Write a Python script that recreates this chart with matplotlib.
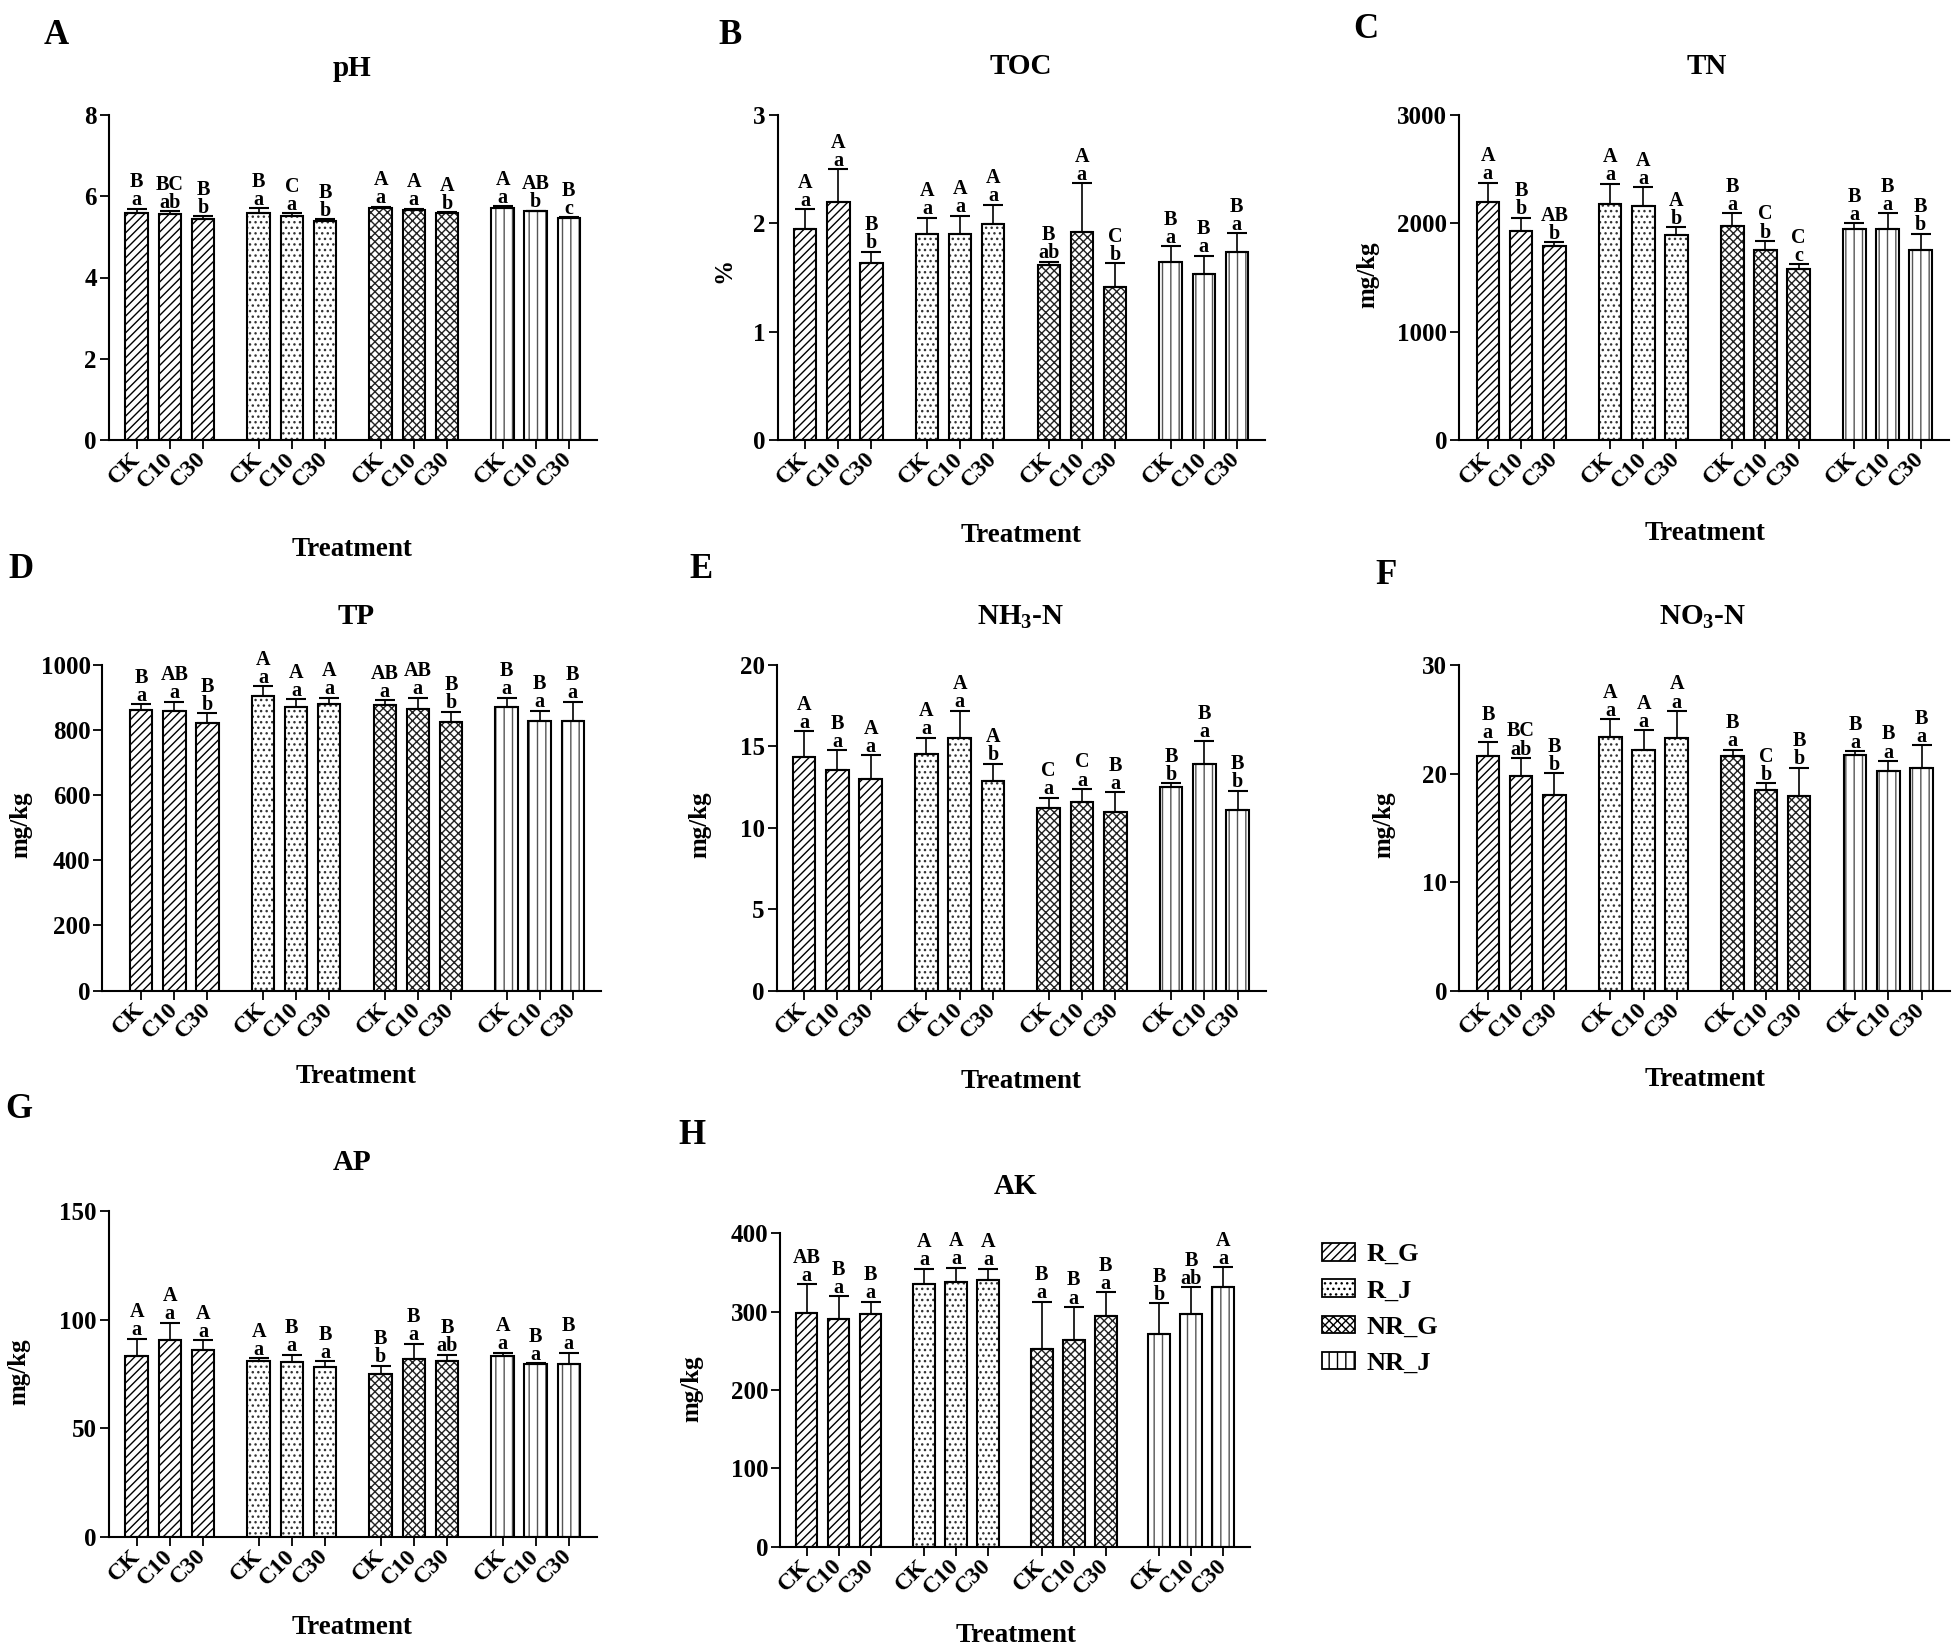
import matplotlib
matplotlib.use("Agg")
import matplotlib.pyplot as plt
from matplotlib.patches import Patch
import numpy as np

plt.rcParams['font.family'] = ['Liberation Serif', 'DejaVu Serif']
plt.rcParams['font.weight'] = 'bold'
plt.rcParams['mathtext.fontset'] = 'custom'
plt.rcParams['mathtext.rm'] = 'Liberation Serif:bold'
plt.rcParams['mathtext.bf'] = 'Liberation Serif:bold'
plt.rcParams['hatch.linewidth'] = 1.0

# ---------------- data ----------------
groups = ['R_G', 'R_J', 'NR_G', 'NR_J']
treatments = ['CK', 'C10', 'C30']

ph_mean = [5.59, 5.56, 5.44, 5.59, 5.51, 5.39, 5.71, 5.67, 5.59, 5.71, 5.63, 5.46]
ph_sd = [0.10, 0.07, 0.07, 0.12, 0.07, 0.04, 0.03, 0.02, 0.02, 0.04, 0.01, 0.02]
ph_upper = ['B', 'BC', 'B', 'B', 'C', 'B', 'A', 'A', 'A', 'A', 'AB', 'B']
ph_lower = ['a', 'ab', 'b', 'a', 'a', 'b', 'a', 'a', 'b', 'a', 'b', 'c']

toc_mean = [1.95, 2.20, 1.63, 1.90, 1.90, 1.99, 1.62, 1.92, 1.41, 1.645, 1.53, 1.74]
toc_sd = [0.18, 0.30, 0.11, 0.15, 0.17, 0.18, 0.025, 0.45, 0.22, 0.145, 0.17, 0.17]
toc_upper = ['A', 'A', 'B', 'A', 'A', 'A', 'B', 'A', 'C', 'B', 'B', 'B']
toc_lower = ['a', 'a', 'b', 'a', 'a', 'a', 'ab', 'a', 'b', 'a', 'a', 'a']

tn_mean = [2199, 1925, 1787, 2183, 2156, 1892, 1978, 1754, 1579, 1949, 1949, 1754]
tn_sd = [175, 126, 40, 181, 175, 70, 116, 83, 43, 52, 145, 148]
tn_upper = ['A', 'B', 'AB', 'A', 'A', 'A', 'B', 'C', 'C', 'B', 'B', 'B']
tn_lower = ['a', 'b', 'b', 'a', 'a', 'b', 'a', 'b', 'c', 'a', 'a', 'b']

tp_mean = [861, 858, 822, 905, 871, 880, 876, 866, 825, 871, 829, 829]
tp_sd = [19, 29, 30, 29, 24, 19, 15, 33, 32, 28, 31, 58]
tp_upper = ['B', 'AB', 'B', 'A', 'A', 'A', 'AB', 'AB', 'B', 'B', 'B', 'B']
tp_lower = ['a', 'a', 'b', 'a', 'a', 'a', 'a', 'a', 'b', 'a', 'a', 'a']

nh3_mean = [14.35, 13.57, 12.99, 14.56, 15.53, 12.87, 11.20, 11.58, 10.98, 12.49, 13.93, 11.09]
nh3_sd = [1.59, 1.18, 1.46, 0.97, 1.66, 1.06, 0.65, 0.80, 1.19, 0.25, 1.41, 1.19]
nh3_upper = ['A', 'B', 'A', 'A', 'A', 'A', 'C', 'C', 'B', 'B', 'B', 'B']
nh3_lower = ['a', 'a', 'a', 'a', 'a', 'b', 'a', 'a', 'a', 'b', 'a', 'b']

no3_mean = [21.59, 19.81, 18.06, 23.38, 22.20, 23.31, 21.59, 18.47, 17.90, 21.75, 20.25, 20.54]
no3_sd = [1.34, 1.62, 1.97, 1.62, 1.78, 2.45, 0.61, 0.61, 2.64, 0.29, 0.90, 2.07]
no3_upper = ['B', 'BC', 'B', 'A', 'A', 'A', 'B', 'C', 'B', 'B', 'B', 'B']
no3_lower = ['a', 'ab', 'b', 'a', 'a', 'a', 'a', 'b', 'b', 'a', 'a', 'a']

ap_mean = [83.4, 90.6, 86.3, 81.0, 80.4, 78.5, 74.9, 81.8, 81.0, 83.3, 79.6, 79.6]
ap_sd = [7.9, 8.1, 4.3, 1.3, 3.5, 2.4, 3.9, 7.2, 2.9, 1.6, 0.5, 5.3]
ap_upper = ['A', 'A', 'A', 'A', 'B', 'B', 'B', 'B', 'B', 'A', 'B', 'B']
ap_lower = ['a', 'a', 'a', 'a', 'a', 'a', 'b', 'a', 'ab', 'a', 'a', 'a']

ak_mean = [298, 291, 297, 335, 338, 340, 252, 264, 295, 272, 297, 332]
ak_sd = [37, 29, 16, 20, 18, 15, 61, 42, 30, 39, 34, 25]
ak_upper = ['AB', 'B', 'B', 'A', 'A', 'A', 'B', 'B', 'B', 'B', 'B', 'A']
ak_lower = ['a', 'a', 'a', 'a', 'a', 'a', 'a', 'a', 'a', 'b', 'ab', 'a']

# ---------------- styling ----------------
W, H = 1959, 1646
fig = plt.figure(figsize=(W / 100, H / 100), dpi=100)

def fx(px):
    return px / W

def fy(py):
    return 1 - py / H

hatches = ['////', '...', 'xxxx', '||']
hatch_edge = ['black', '#333333', '#222222', '#555555']
GAP = 3.68
xpos = np.array([g * GAP + i for g in range(4) for i in range(3)])

panels = [
    dict(mean=ph_mean, sd=ph_sd, up=ph_upper, lo=ph_lower, ymax=8, yt=[0, 2, 4, 6, 8],
         box=(108.6, 597, 115, 440), xl=-0.85, title='pH', txy=(352, 68), let='A', lxy=(56, 36),
         yl=None, ylxy=None, trxy=(352, 550)),
    dict(mean=toc_mean, sd=toc_sd, up=toc_upper, lo=toc_lower, ymax=3, yt=[0, 1, 2, 3],
         box=(777.7, 1265, 115, 440), xl=-0.83, title='TOC', txy=(1021, 66), let='B', lxy=(730, 35),
         yl='%', ylxy=(724, 270), trxy=(1021, 536)),
    dict(mean=tn_mean, sd=tn_sd, up=tn_upper, lo=tn_lower, ymax=3000, yt=[0, 1000, 2000, 3000],
         box=(1459, 1949, 115, 440), xl=-0.87, title='TN', txy=(1707, 66), let='C', lxy=(1366, 29),
         yl='mg/kg', ylxy=(1368, 275), trxy=(1705, 534)),
    dict(mean=tp_mean, sd=tp_sd, up=tp_upper, lo=tp_lower, ymax=1000, yt=[0, 200, 400, 600, 800, 1000],
         box=(102.4, 601, 665, 990.5), xl=-1.17, title='TP', txy=(356.5, 617), let='D', lxy=(21, 570),
         yl='mg/kg', ylxy=(21, 825), trxy=(356.5, 1076.6)),
    dict(mean=nh3_mean, sd=nh3_sd, up=nh3_upper, lo=nh3_lower, ymax=20, yt=[0, 5, 10, 15, 20],
         box=(776.6, 1265.8, 665, 990.5), xl=-0.83, title=r'NH$_\mathregular{3}$-N', txy=(1021, 617),
         let='E', lxy=(701, 569), yl='mg/kg', ylxy=(700, 825), trxy=(1021, 1081.8)),
    dict(mean=no3_mean, sd=no3_sd, up=no3_upper, lo=no3_lower, ymax=30, yt=[0, 10, 20, 30],
         box=(1459, 1949.8, 665, 990.5), xl=-0.87, title=r'NO$_\mathregular{3}$-N', txy=(1703, 617),
         let='F', lxy=(1386, 575), yl='mg/kg', ylxy=(1384, 825), trxy=(1705, 1080)),
    dict(mean=ap_mean, sd=ap_sd, up=ap_upper, lo=ap_lower, ymax=150, yt=[0, 50, 100, 150],
         box=(108.6, 597, 1211.4, 1537), xl=-0.85, title='AP', txy=(352, 1163), let='G', lxy=(19, 1110),
         yl='mg/kg', ylxy=(19, 1372), trxy=(352, 1627.5)),
    dict(mean=ak_mean, sd=ak_sd, up=ak_upper, lo=ak_lower, ymax=400, yt=[0, 100, 200, 300, 400],
         box=(780.4, 1250.4, 1233.4, 1546.7), xl=-0.82, title='AK', txy=(1016, 1187), let='H',
         lxy=(692, 1135), yl='mg/kg', ylxy=(692, 1389), trxy=(1016, 1636)),
]

XR = 3 * GAP + 2 + 0.85

for p in panels:
    l, r, t, b = p['box']
    ax = fig.add_axes([fx(l), fy(b), (r - l) / W, (b - t) / H])
    mean = np.array(p['mean'], dtype=float)
    sd = np.array(p['sd'], dtype=float)
    for g in range(4):
        idx = slice(g * 3, g * 3 + 3)
        ax.bar(xpos[idx], mean[idx], width=0.68, facecolor='white',
               edgecolor=hatch_edge[g], hatch=hatches[g], linewidth=1.2, zorder=2)
        ax.bar(xpos[idx], mean[idx], width=0.68, facecolor='none',
               edgecolor='black', linewidth=1.5, zorder=3)
    ax.errorbar(xpos, mean, yerr=[np.zeros_like(sd), sd], fmt='none',
                ecolor='black', elinewidth=1.2, capsize=7, capthick=1.5, zorder=4)
    for x, m, s, u, lw in zip(xpos, mean, sd, p['up'], p['lo']):
        ax.annotate(lw, (x, m + s), xytext=(0, 2.5), textcoords='offset points',
                    ha='center', va='baseline', fontsize=14.5, fontweight='bold')
        ax.annotate(u, (x, m + s), xytext=(0, 15.5), textcoords='offset points',
                    ha='center', va='baseline', fontsize=14.5, fontweight='bold')
    ax.set_ylim(0, p['ymax'])
    ax.set_yticks(p['yt'])
    ax.set_xlim(p['xl'], XR)
    ax.set_xticks(xpos)
    ax.set_xticklabels(treatments * 4, rotation=45, ha='right', va='center',
                       rotation_mode='anchor', fontsize=17, fontweight='bold')
    for lab in ax.get_yticklabels():
        lab.set_fontsize(18)
        lab.set_fontweight('bold')
    ax.spines['top'].set_visible(False)
    ax.spines['right'].set_visible(False)
    ax.spines['left'].set_linewidth(1.5)
    ax.spines['bottom'].set_linewidth(1.5)
    ax.tick_params(axis='both', direction='out', length=6.5, width=1.3)
    ax.tick_params(axis='x', pad=5)
    ax.tick_params(axis='y', pad=2)

    fig.text(fx(p['txy'][0]), fy(p['txy'][1]), p['title'], ha='center', va='center',
             fontsize=21, fontweight='bold')
    fig.text(fx(p['lxy'][0]), fy(p['lxy'][1]), p['let'], ha='center', va='center',
             fontsize=25, fontweight='bold')
    fig.text(fx(p['trxy'][0]), fy(p['trxy'][1]), 'Treatment', ha='center', va='center',
             fontsize=19.5, fontweight='bold')
    if p['yl']:
        fig.text(fx(p['ylxy'][0]), fy(p['ylxy'][1]), p['yl'], ha='center', va='center',
                 rotation=90, fontsize=18, fontweight='bold')

handles = [Patch(facecolor='white', edgecolor=hatch_edge[g], hatch=hatches[g], linewidth=1.3)
           for g in range(4)]
leg = fig.legend(handles, groups, loc='upper left', bbox_to_anchor=(fx(1322), fy(1243)),
                 frameon=False, fontsize=19, handlelength=1.25, handleheight=0.65,
                 labelspacing=0.5, handletextpad=0.45, borderpad=0, borderaxespad=0)
for t in leg.get_texts():
    t.set_fontweight('bold')
for h in leg.legend_handles:
    h.set_edgecolor('black')

fig.savefig('out.png', dpi=100, facecolor='white')
